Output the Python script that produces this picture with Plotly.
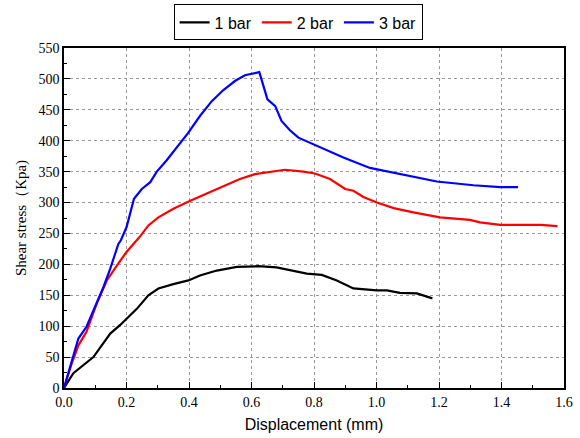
import plotly.graph_objects as go

# 1 bar
x1 = [0, 0.030, 0.094, 0.148, 0.180, 0.233, 0.270, 0.302, 0.350, 0.398, 0.435, 0.489, 0.553, 0.622,
      0.680, 0.723, 0.777, 0.825, 0.873, 0.926, 1.001, 1.033, 1.075, 1.129, 1.179]
y1 = [0, 24, 50, 88, 102, 128, 150, 161, 168, 174, 182, 190, 196, 197,
      195, 191, 185, 183, 174, 161, 158, 158, 154, 153, 145]

# 2 bar
x2 = [0, 0.025, 0.046, 0.072, 0.105, 0.137, 0.169, 0.200, 0.243, 0.270, 0.302, 0.350, 0.404, 0.457,
      0.510, 0.563, 0.611, 0.660, 0.707, 0.766, 0.803, 0.851, 0.900, 0.926, 0.958, 1.001, 1.055,
      1.118, 1.203, 1.299, 1.331, 1.396, 1.481, 1.524, 1.579]
y2 = [0, 40, 69, 91, 137, 174, 198, 220, 245, 263, 276, 290, 303, 315,
      327, 338, 346, 350, 353, 350, 347, 338, 322, 319, 309, 300, 291,
      284, 276, 272, 268, 264, 264, 264, 262]

# 3 bar
x3 = [0, 0.022, 0.046, 0.072, 0.099, 0.126, 0.148, 0.174, 0.182, 0.200, 0.224, 0.249, 0.276, 0.297,
      0.328, 0.366, 0.398, 0.435, 0.473, 0.510, 0.548, 0.579, 0.625, 0.651, 0.676, 0.696, 0.723,
      0.750, 0.808, 0.894, 0.979, 1.075, 1.193, 1.310, 1.396, 1.453]
y3 = [0, 40, 80, 99, 131, 163, 193, 233, 239, 260, 306, 322, 333, 350,
      368, 392, 413, 440, 464, 482, 497, 506, 511, 467, 456, 432, 417,
      405, 392, 373, 356, 346, 334, 328, 325, 325]

names = ["1 bar", "2 bar", "3 bar"]
colors = ["#000000", "#ff0000", "#0000ff"]

fig = go.Figure()
for xs, ys, n, c in zip([x1, x2, x3], [y1, y2, y3], names, colors):
    fig.add_trace(go.Scatter(x=xs, y=ys, mode="lines", name=n,
                             line=dict(color=c, width=2.2)))

serif = "Times New Roman"
sans = "Arial"

fig.update_layout(
    width=580, height=438,
    margin=dict(l=64, r=16, t=48, b=50),
    plot_bgcolor="white", paper_bgcolor="white",
    showlegend=True,
    legend=dict(orientation="h", xref="container", yref="container",
                x=0.514, xanchor="center", y=0.99, yanchor="top",
                bordercolor="black", borderwidth=1, bgcolor="white",
                font=dict(family=sans, size=16, color="black"),
                itemwidth=30, tracegroupgap=0),
    xaxis=dict(range=[0, 1.6], dtick=0.2, tickformat=".1f", automargin=False,
               showline=True, linecolor="black", linewidth=1.5, mirror=True,
               ticks="inside", ticklen=6, tickcolor="black",
               minor=dict(dtick=0.1, ticks="inside", ticklen=3, tickcolor="black", showgrid=False),
               showgrid=True, gridcolor="#999999", griddash="dot", gridwidth=1,
               zeroline=False,
               tickfont=dict(family=serif, size=14, color="black"),
               title=dict(text="Displacement (mm)", font=dict(family=sans, size=16, color="black"),
                          standoff=10)),
    yaxis=dict(range=[0, 550], dtick=50, automargin=False,
               showline=True, linecolor="black", linewidth=1.5, mirror=True,
               ticks="inside", ticklen=6, tickcolor="black",
               minor=dict(dtick=25, ticks="inside", ticklen=3, tickcolor="black", showgrid=False),
               showgrid=True, gridcolor="#999999", griddash="dot", gridwidth=1,
               zeroline=False,
               tickfont=dict(family=serif, size=14, color="black"),
               title=dict(text="Shear stress（Kpa)", font=dict(family=serif, size=15, color="black"),
                          standoff=8)),
)

fig.write_html("out.html")
